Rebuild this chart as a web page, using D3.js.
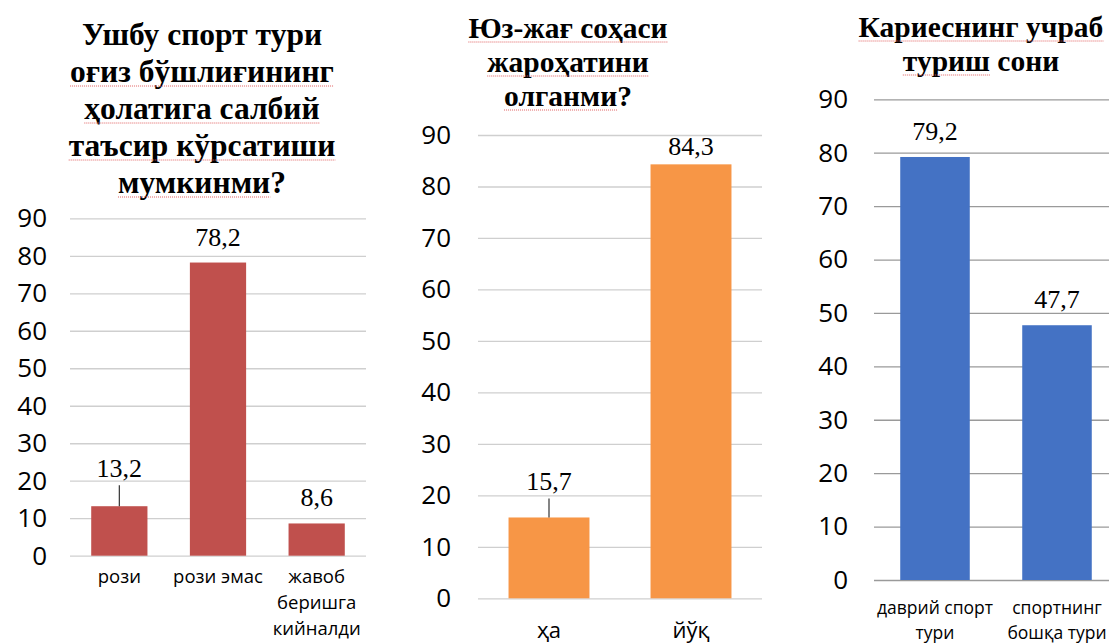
<!DOCTYPE html>
<html>
<head>
<meta charset="utf-8">
<script src="https://cdn.jsdelivr.net/npm/d3@7"></script>
<style>
  body { margin: 0; background: #fff; }
  svg { display: block; }
</style>
</head>
<body>
<div id="chart"></div>
<script>
// chart 1
var sportCategories = ['рози', 'рози эмас', 'жавоб беришга кийналди'];
var sportValues = [13.2, 78.2, 8.6];
var sportTitle = ['Ушбу спорт тури', 'оғиз бўшлиғининг', 'ҳолатига салбий', 'таъсир кўрсатиши', 'мумкинми?'];

// chart 2
var injuryCategories = ['ҳа', 'йўқ'];
var injuryValues = [15.7, 84.3];
var injuryTitle = ['Юз-жағ соҳаси', 'жароҳатини', 'олганми?'];

// chart 3
var cariesCategories = ['даврий спорт тури', 'спортнинг бошқа тури'];
var cariesValues = [79.2, 47.7];
var cariesTitle = ['Кариеснинг учраб', 'туриш сони'];

var yTicks = [0, 10, 20, 30, 40, 50, 60, 70, 80, 90];

var svg = d3.select('#chart').append('svg')
    .attr('width', 1109)
    .attr('height', 643);

svg.append('rect')
    .attr('width', 1109)
    .attr('height', 643)
    .attr('fill', '#fff');

function wrap(text, width) {
  text.each(function () {
    var t = d3.select(this);
    var words = t.text().split(/\s+/);
    var lineHeight = +t.attr('data-lh');
    var y = t.attr('y');
    var line = [];
    var n = 0;
    var tspan = t.text(null).append('tspan').attr('x', 0).attr('y', y);
    words.forEach(function (w) {
      line.push(w);
      tspan.text(line.join(' '));
      if (tspan.node().getComputedTextLength() > width && line.length > 1) {
        line.pop();
        tspan.text(line.join(' '));
        line = [w];
        n++;
        tspan = t.append('tspan').attr('x', 0).attr('y', y)
            .attr('dy', n * lineHeight).text(w);
      }
    });
  });
}

function drawChart(c) {
  var g = svg.append('g');

  var x = d3.scaleBand()
      .domain(c.categories)
      .range([c.left, c.right])
      .paddingInner(0.43)
      .paddingOuter(0.215);
  var y = d3.scaleLinear()
      .domain([0, 90])
      .range([c.bottom, c.top]);

  // gridlines + y labels
  var yAxis = d3.axisLeft(y)
      .tickValues(yTicks)
      .tickSize(-(c.right - c.left))
      .tickPadding(c.tickPad);
  var ya = g.append('g')
      .attr('transform', 'translate(' + c.left + ',0)')
      .call(yAxis);
  ya.select('.domain').remove();
  ya.selectAll('line')
      .attr('stroke', c.grid)
      .attr('stroke-width', 1.3);
  ya.selectAll('text')
      .attr('fill', '#000')
      .style('font', '26px "Open Sans", sans-serif');

  // bars
  g.selectAll('.bar')
      .data(c.values)
      .enter().append('rect')
      .attr('class', 'bar')
      .attr('x', function (d, i) { return x(c.categories[i]); })
      .attr('width', x.bandwidth())
      .attr('y', function (d) { return y(d); })
      .attr('height', function (d) { return c.bottom - y(d); })
      .attr('fill', c.color);

  // value labels
  g.selectAll('.val')
      .data(c.values)
      .enter().append('text')
      .attr('class', 'val')
      .attr('x', function (d, i) { return x(c.categories[i]) + x.bandwidth() / 2; })
      .attr('y', function (d, i) { return y(d) - c.lift[i]; })
      .attr('text-anchor', 'middle')
      .style('font', '26px "Liberation Serif", "Times New Roman", serif')
      .text(function (d) { return String(d).replace('.', ','); });

  // leader lines for moved labels
  c.values.forEach(function (d, i) {
    if (c.lift[i] > 20) {
      var cx = x(c.categories[i]) + x.bandwidth() / 2;
      g.append('line')
          .attr('x1', cx).attr('x2', cx)
          .attr('y1', y(d)).attr('y2', y(d) - c.lift[i] + 8)
          .attr('stroke', '#333')
          .attr('stroke-width', 1.2);
    }
  });

  // category labels
  var xAxis = d3.axisBottom(x).tickSize(0).tickPadding(0);
  var xa = g.append('g')
      .attr('transform', 'translate(0,' + c.bottom + ')')
      .call(xAxis);
  xa.select('.domain').remove();
  xa.selectAll('text')
      .attr('fill', '#000')
      .attr('dy', null)
      .attr('y', c.catY)
      .attr('data-lh', c.catLh)
      .style('font', c.catSize + 'px "Open Sans", sans-serif')
      .call(wrap, x.step());

  // title
  c.title.forEach(function (t, i) {
    var tx = g.append('text')
        .attr('x', c.titleX)
        .attr('y', c.titleY + i * c.titleLh)
        .attr('text-anchor', 'middle')
        .style('font', 'bold ' + c.titleSize + 'px "Liberation Serif", "Times New Roman", serif')
        .text(t);
    var u = c.underline[i];
    if (u) {
      var box = tx.node().getBBox();
      var w = tx.node().getSubStringLength(0, u);
      g.append('line')
          .attr('x1', box.x).attr('x2', box.x + w)
          .attr('y1', c.titleY + i * c.titleLh + 4)
          .attr('y2', c.titleY + i * c.titleLh + 4)
          .attr('stroke', '#e06060')
          .attr('stroke-width', 1)
          .attr('stroke-dasharray', '1,1');
    }
  });
}

drawChart({
  categories: sportCategories, values: sportValues, color: '#C0504D',
  left: 70, right: 366, top: 218.3, bottom: 555.7, tickPad: 23,
  grid: '#cfcfcf', lift: [29, 17, 17],
  catY: 27.5, catLh: 26, catSize: 18.5,
  title: sportTitle, titleX: 202, titleY: 45, titleLh: 37, titleSize: 31.5,
  underline: [0, 17, 15, 16, 8]
});

drawChart({
  categories: injuryCategories, values: injuryValues, color: '#F79646',
  left: 478, right: 762, top: 135, bottom: 598.3, tickPad: 27,
  grid: '#cfcfcf', lift: [27, 9],
  catY: 40, catLh: 26, catSize: 22,
  title: injuryTitle, titleX: 568, titleY: 38, titleLh: 34, titleSize: 29.5,
  underline: [13, 11, 7]
});

drawChart({
  categories: cariesCategories, values: cariesValues, color: '#4472C4',
  left: 874, right: 1118, top: 99.3, bottom: 580, tickPad: 26,
  grid: '#9a9a9a', lift: [17, 17],
  catY: 34, catLh: 25, catSize: 17.5,
  title: cariesTitle, titleX: 981, titleY: 37, titleLh: 34, titleSize: 29.5,
  underline: [16, 5]
});
</script>
</body>
</html>
